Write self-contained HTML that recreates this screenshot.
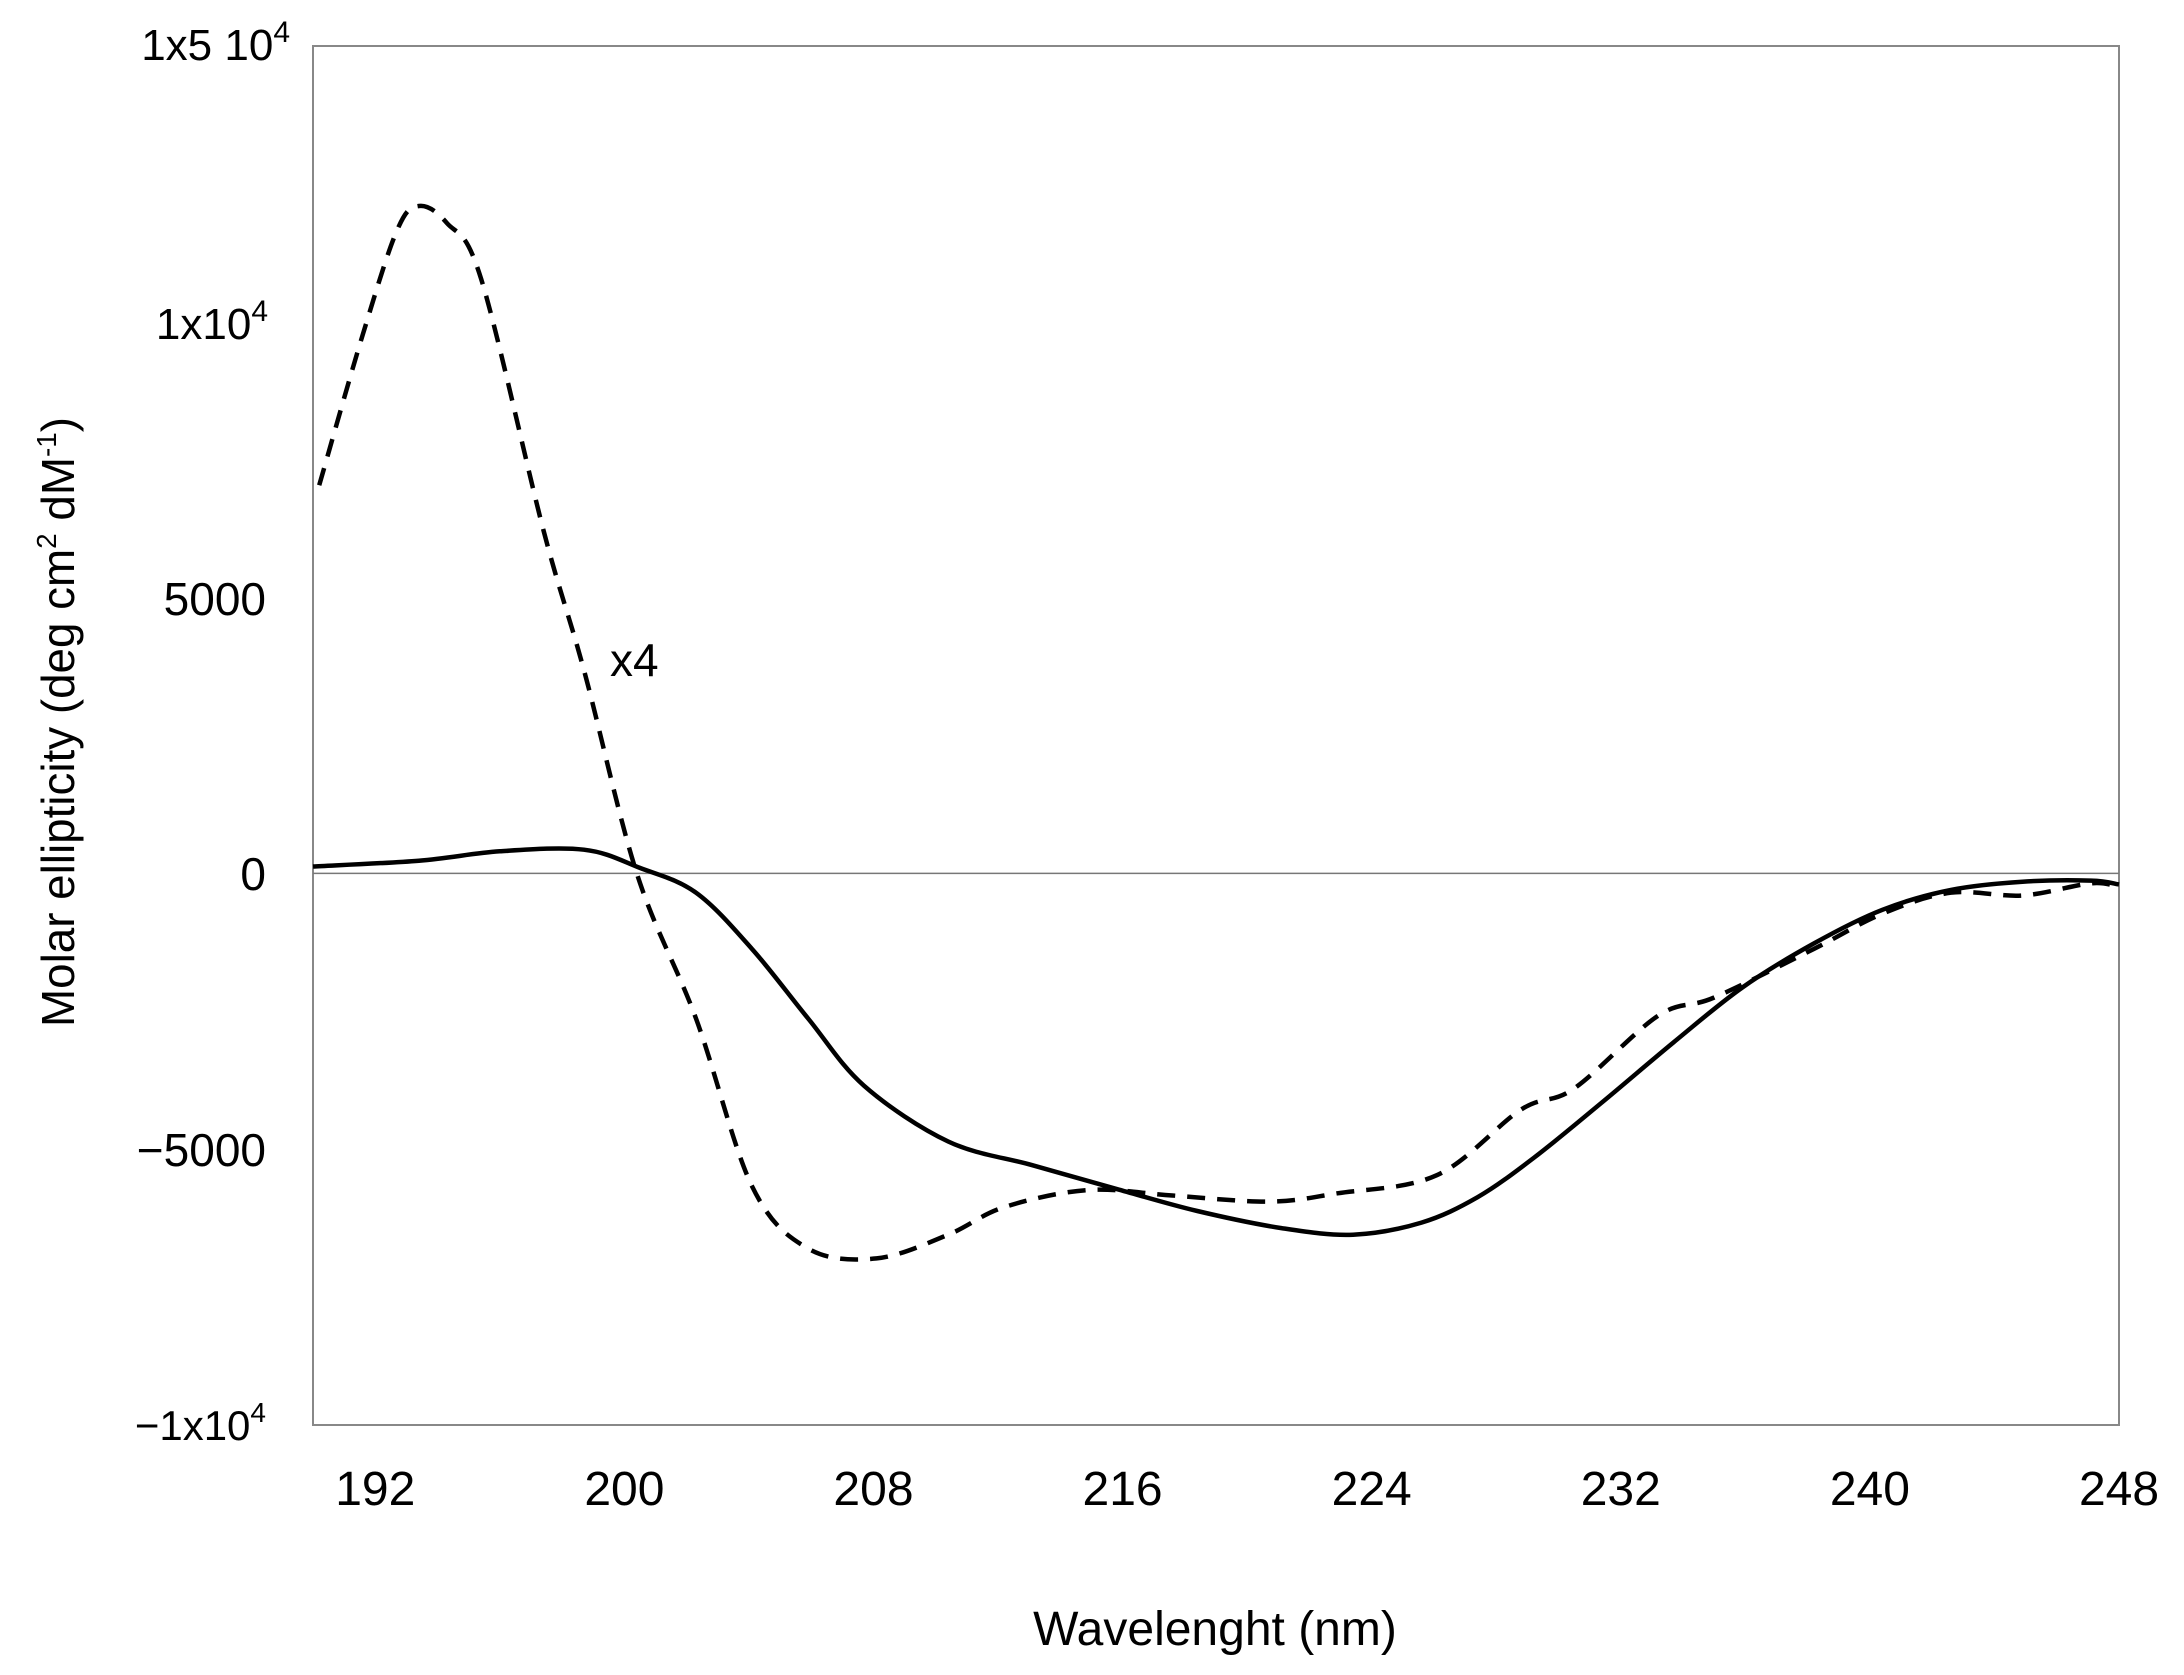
<!DOCTYPE html>
<html><head><meta charset="utf-8">
<style>
html,body{margin:0;padding:0;background:#fff;}
svg{display:block;font-family:"Liberation Sans",Arial,sans-serif;}
</style></head>
<body>
<svg id="chart" width="2184" height="1675" viewBox="0 0 2184 1675" xmlns="http://www.w3.org/2000/svg">
<rect x="313" y="46" width="1806" height="1379" fill="#fff" stroke="#888" stroke-width="2"/>
<g id="axes"></g>
<g id="series"></g>
<text x="290" y="60" font-size="44" text-anchor="end">1x5 10<tspan dy="-18" font-size="30">4</tspan></text>
<text x="268" y="339" font-size="44" text-anchor="end">1x10<tspan dy="-18" font-size="30">4</tspan></text>
<text x="266" y="615" font-size="46" text-anchor="end">5000</text>
<text x="266" y="890" font-size="46" text-anchor="end">0</text>
<text x="266" y="1166" font-size="46" text-anchor="end">−5000</text>
<text x="266" y="1440" font-size="42" text-anchor="end">−1x10<tspan dy="-18" font-size="28">4</tspan></text>
<text x="610" y="676" font-size="46">x4</text>
<text x="1215" y="1645" font-size="48" text-anchor="middle">Wavelenght (nm)</text>
<text transform="translate(74,722) rotate(-90)" font-size="46" text-anchor="middle" textLength="610" lengthAdjust="spacingAndGlyphs">Molar ellipticity (deg cm<tspan dy="-18" font-size="28">2</tspan><tspan dy="18"> dM</tspan><tspan dy="-18" font-size="28">-1</tspan><tspan dy="18">)</tspan></text>
<script>
const xTicks = [192, 200, 208, 216, 224, 232, 240, 248];
const dashedX = [190.2,191.6,192.7,193.4,194.3,195.4,197.4,198.7,200.4,202.3,204.1,205.9,208.1,210.4,212.2,214.9,217.6,220.7,222.9,226.1,228.8,230.5,233.2,235,238.2,240.4,242.6,244.9,247.1,248];
const dashedY = [7035,9770,11660,12100,11790,10780,6225,3690,0,-2630,-5670,-6800,-6980,-6550,-6050,-5740,-5840,-5950,-5800,-5470,-4280,-3900,-2580,-2250,-1370,-730,-350,-400,-180,-250];
const solidX = [190,193.4,196,198.7,200.5,202.3,204.1,205.9,207.7,210.4,213.1,215.8,218.4,221.1,223.4,225.6,227.4,229.2,231.4,233.7,235.9,238.2,240.4,242.6,244.9,247.1,248];
const solidY = [125,230,400,430,100,-350,-1370,-2630,-3850,-4860,-5290,-5720,-6120,-6430,-6550,-6330,-5870,-5160,-4150,-3060,-2070,-1270,-660,-300,-150,-130,-200];

const NS = "http://www.w3.org/2000/svg";
const X0 = 313, X1 = 2119, Y0 = 46, Y1 = 1425;
function xs(v){ return X0 + (v - 190) / (248 - 190) * (X1 - X0); }
function ys(v){ return Y0 + (15000 - v) / 25000 * (Y1 - Y0); }

const axes = document.getElementById('axes');
const zl = document.createElementNS(NS, 'line');


zl.setAttribute('x1', X0); zl.setAttribute('x2', X1);
zl.setAttribute('y1', ys(0)); zl.setAttribute('y2', ys(0));
zl.setAttribute('stroke', '#777'); zl.setAttribute('stroke-width', '1.5');
axes.appendChild(zl);

xTicks.forEach(t => {
  const tx = document.createElementNS(NS, 'text');
  
  
  tx.setAttribute('x', xs(t)); tx.setAttribute('y', 1505);
  tx.setAttribute('font-size', '48'); tx.setAttribute('text-anchor', 'middle');
  tx.textContent = t;
  axes.appendChild(tx);
});

function pathFor(X, Y){
  const p = X.map((x, i) => [xs(x), ys(Y[i])]);
  let d = 'M' + p[0][0].toFixed(1) + ',' + p[0][1].toFixed(1);
  for (let i = 0; i < p.length - 1; i++){
    const a = p[Math.max(i-1,0)], b = p[i], c = p[i+1], e = p[Math.min(i+2,p.length-1)];
    const c1 = [b[0] + (c[0]-a[0])/6, b[1] + (c[1]-a[1])/6];
    const c2 = [c[0] - (e[0]-b[0])/6, c[1] - (e[1]-b[1])/6];
    d += 'C' + c1[0].toFixed(1) + ',' + c1[1].toFixed(1) + ' ' + c2[0].toFixed(1) + ',' + c2[1].toFixed(1) + ' ' + c[0].toFixed(1) + ',' + c[1].toFixed(1);
  }
  return d;
}
const series = document.getElementById('series');
const dl = document.createElementNS(NS, 'path');


dl.setAttribute('d', pathFor(dashedX, dashedY));
dl.setAttribute('fill', 'none'); dl.setAttribute('stroke', '#000');
dl.setAttribute('stroke-width', '4.5'); dl.setAttribute('stroke-dasharray', '18 12');
series.appendChild(dl);
const sl = document.createElementNS(NS, 'path');


sl.setAttribute('d', pathFor(solidX, solidY));
sl.setAttribute('fill', 'none'); sl.setAttribute('stroke', '#000');
sl.setAttribute('stroke-width', '4.5');
series.appendChild(sl);
</script>
</svg>
</body></html>
